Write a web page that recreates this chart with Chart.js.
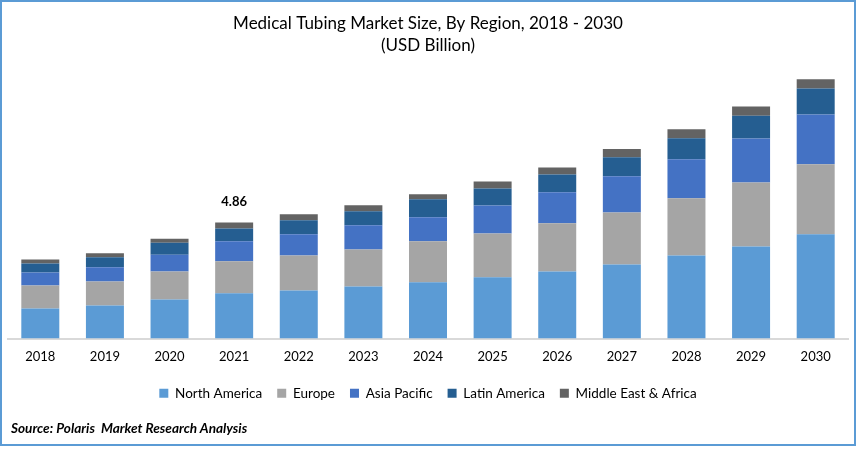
<!DOCTYPE html>
<html>
<head>
<meta charset="utf-8">
<style>
    html, body { margin: 0; padding: 0; background: #fff; overflow: hidden; }
    #frame { position: absolute; left: 0; top: 0; width: 856px; height: 446px; box-sizing: border-box; border: 2px solid #5b9bd5; }
    #chart { position: absolute; left: 0; top: 0; }
    #source { position: absolute; left: 11px; top: 420px; font: italic bold 13.6px Lato, sans-serif; color: #000; white-space: pre; }
</style>
<script src="https://cdn.jsdelivr.net/npm/chart.js@4/dist/chart.umd.min.js"></script>
</head>
<body>
<div id="frame"></div>
<canvas id="chart" width="856" height="460"></canvas>
<div id="source">Source: Polaris  Market Research Analysis</div>
<script>
var years = ['2018', '2019', '2020', '2021', '2022', '2023', '2024', '2025', '2026', '2027', '2028', '2029', '2030'];
var northAmerica = [1.26, 1.38, 1.63, 1.89, 2.01, 2.18, 2.35, 2.56, 2.81, 3.10, 3.48, 3.85, 4.36];
var europe = [0.96, 1.01, 1.17, 1.34, 1.47, 1.55, 1.72, 1.84, 2.01, 2.18, 2.39, 2.68, 2.93];
var asiaPacific = [0.54, 0.59, 0.71, 0.84, 0.88, 1.01, 1.01, 1.17, 1.30, 1.51, 1.63, 1.84, 2.09];
var latinAmerica = [0.38, 0.42, 0.50, 0.54, 0.59, 0.59, 0.75, 0.71, 0.75, 0.80, 0.88, 0.96, 1.09];
var middleEastAfrica = [0.17, 0.17, 0.17, 0.25, 0.25, 0.25, 0.21, 0.29, 0.29, 0.34, 0.38, 0.38, 0.38];
var seriesNames = ['North America', 'Europe', 'Asia Pacific', 'Latin America', 'Middle East & Africa'];
var seriesColors = ['#5b9bd5', '#a5a5a5', '#4472c4', '#255e91', '#636363'];
var calloutYear = '2021';
var calloutText = '4.86';

var fontName = 'Lato, sans-serif';

// writes the single total above its stack
var calloutPlugin = {
    id: 'callout',
    afterDatasetsDraw: function (chart) {
        var i = years.indexOf(calloutYear);
        var meta = chart.getDatasetMeta(4);
        var bar = meta.data[i];
        var ctx = chart.ctx;
        ctx.save();
        ctx.font = 'bold 13px ' + fontName;
        ctx.fillStyle = '#000';
        ctx.textAlign = 'center';
        ctx.textBaseline = 'middle';
        ctx.fillText(calloutText, bar.x, bar.y - 21);
        ctx.restore();
    }
};

var allSeries = [northAmerica, europe, asiaPacific, latinAmerica, middleEastAfrica];
var datasets = allSeries.map(function (values, i) {
    return {
        label: seriesNames[i],
        data: values,
        backgroundColor: seriesColors[i],
        borderWidth: 0,
        barPercentage: 0.588,
        categoryPercentage: 1
    };
});

var myChart = new Chart(document.getElementById('chart').getContext('2d'), {
    type: 'bar',
    data: { labels: years, datasets: datasets },
    plugins: [calloutPlugin],
    options: {
        responsive: false,
        animation: false,
        layout: { padding: { left: 8, right: 8, top: 12, bottom: 50 } },
        plugins: {
            tooltip: { enabled: false },
            title: {
                display: true,
                text: ['Medical Tubing Market Size, By Region, 2018 - 2030', '(USD Billion)'],
                color: '#000',
                font: { family: fontName, size: 17, weight: 'normal', lineHeight: 1.3 },
                padding: { top: 0, bottom: 10 }
            },
            legend: {
                position: 'bottom',
                labels: {
                    boxWidth: 9,
                    boxHeight: 9,
                    padding: 15,
                    color: '#000',
                    font: { family: fontName, size: 13.5 }
                }
            }
        },
        scales: {
            x: {
                stacked: true,
                grid: { display: false, drawTicks: false },
                border: { color: '#d9d9d9', width: 2 },
                ticks: { color: '#000', padding: 11, maxRotation: 0, font: { family: fontName, size: 13 } },
                afterFit: function (scale) {
                    scale.height = 33;
                }
            },
            y: {
                stacked: true,
                display: false,
                min: 0,
                max: 11.4
            }
        }
    }
});
</script>
</body>
</html>
